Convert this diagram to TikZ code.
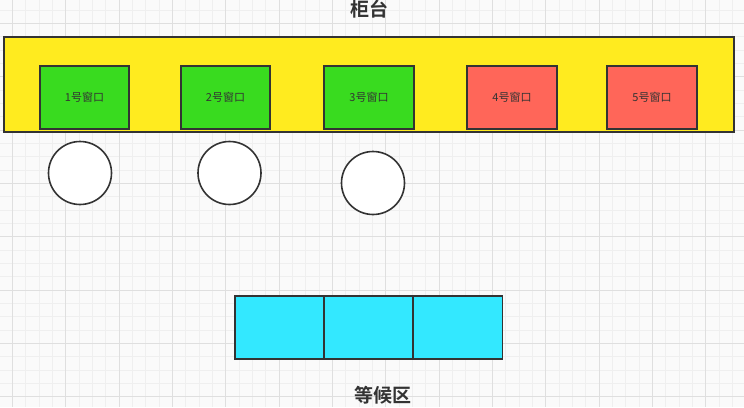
\documentclass[tikz,border=0pt]{standalone}
\usepackage{fontspec}
\setmainfont{Noto Sans CJK SC}
\newfontfamily\cjkbold{Noto Sans CJK SC Bold}
\definecolor{cyel}{HTML}{FFEB1F}
\definecolor{cgrn}{HTML}{39DB1F}
\definecolor{cred}{HTML}{FF6659}
\definecolor{ccyan}{HTML}{33E8FF}
\definecolor{cline}{HTML}{333333}
\definecolor{gminor}{HTML}{EFEFEF}
\definecolor{gmajor}{HTML}{DFDFDF}
\begin{document}
\begin{tikzpicture}[x=1pt,y=-1pt,
  box/.style={draw=cline,line width=1.8pt,rectangle,inner sep=0pt},
  counterbox/.style={box,fill=cyel,minimum width=730pt,minimum height=95.5pt},
  winbox/.style={box,minimum width=89.5pt,minimum height=63pt,font=\fontsize{11}{13}\selectfont,text=cline},
  openwin/.style={winbox,fill=cgrn},
  closedwin/.style={winbox,fill=cred},
  person/.style={draw=cline,line width=1.6pt,circle,fill=white,minimum size=63pt,inner sep=0pt},
  seat/.style={box,fill=ccyan,minimum width=89pt,minimum height=63pt},
  title/.style={font=\cjkbold\fontsize{19}{22}\selectfont,text=cline,inner sep=0pt}]
\useasboundingbox (0,0) rectangle (744,407);
\fill[white!98!black] (0,0) rectangle (744,407);
% grid
\foreach \i in {0,...,55} {
  \draw[gminor,line width=0.6pt] ({12.33+13.333*(\i-1)},0) -- ({12.33+13.333*(\i-1)},407);
}
\foreach \i in {0,...,31} {
  \draw[gminor,line width=0.6pt] (0,{10+13.333*\i}) -- (744,{10+13.333*\i});
}
\foreach \i in {0,...,14} {
  \draw[gmajor,line width=0.8pt] ({12.33+53.333*\i},0) -- ({12.33+53.333*\i},407);
}
\foreach \i in {0,...,7} {
  \draw[gmajor,line width=0.8pt] (0,{23.33+53.333*\i}) -- (744,{23.33+53.333*\i});
}
% counter
\node[title] (ttl) at (369,9.5) {柜台};
\node[counterbox] (counter) at (369,84.5) {};
\node[openwin] (w1) at (84.5,97.5) {1号窗口};
\node[openwin] (w2) at (225.5,97.5) {2号窗口};
\node[openwin] (w3) at (369,97.5) {3号窗口};
\node[closedwin] (w4) at (512,97.5) {4号窗口};
\node[closedwin] (w5) at (652,97.5) {5号窗口};
% people
\node[person] (p1) at (80,173) {};
\node[person] (p2) at (229.5,173) {};
\node[person] (p3) at (373,183) {};
% waiting area
\node[seat] (s1) at (279.5,327.5) {};
\node[seat] (s2) at (368.5,327.5) {};
\node[seat] (s3) at (458,327.5) {};
\node[title] (wait) at (383,395) {等候区};
\end{tikzpicture}
\end{document}
